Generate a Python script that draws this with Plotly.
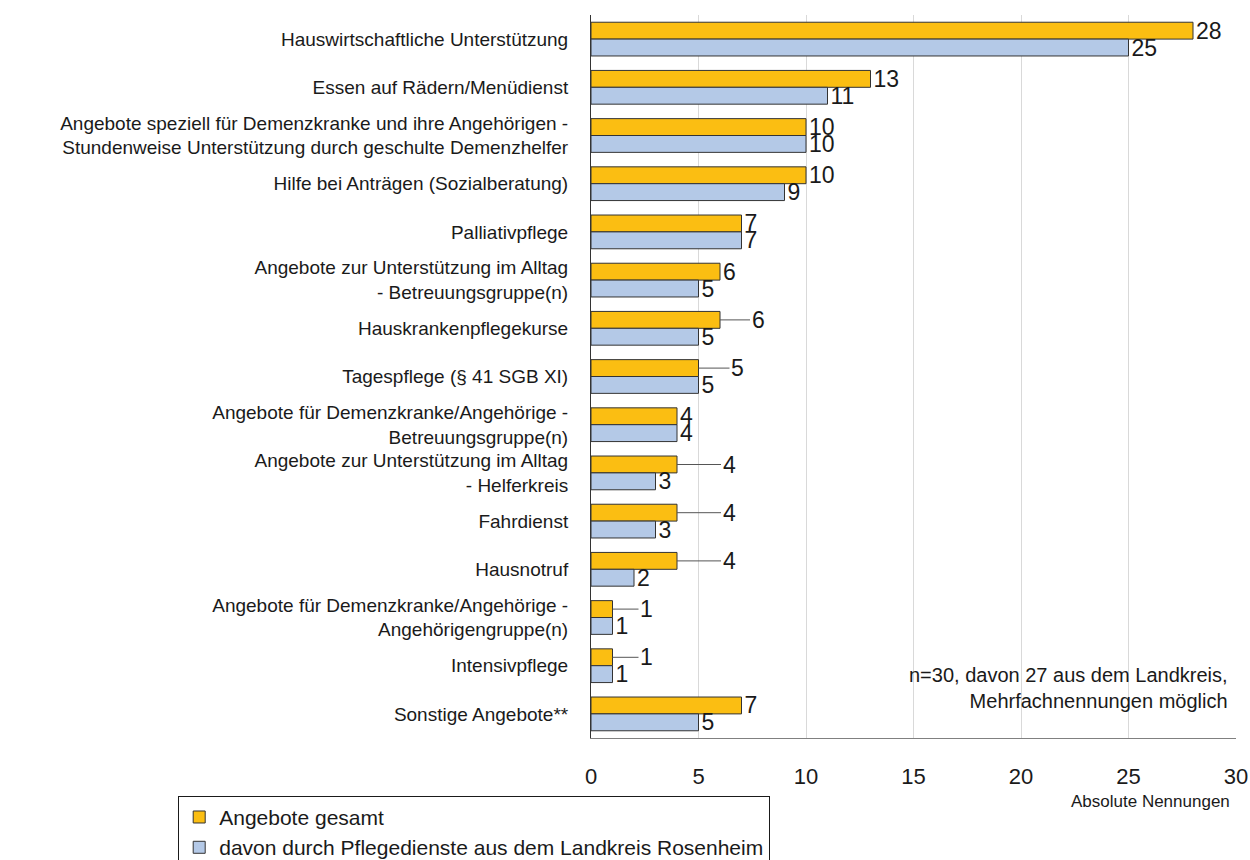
import plotly.graph_objects as go

categories = [
    "Hauswirtschaftliche Unterstützung",
    "Essen auf Rädern/Menüdienst",
    "Angebote speziell für Demenzkranke und ihre Angehörigen -<br>Stundenweise Unterstützung durch geschulte Demenzhelfer",
    "Hilfe bei Anträgen (Sozialberatung)",
    "Palliativpflege",
    "Angebote zur Unterstützung im Alltag<br>- Betreuungsgruppe(n)",
    "Hauskrankenpflegekurse",
    "Tagespflege (§ 41 SGB XI)",
    "Angebote für Demenzkranke/Angehörige -<br>Betreuungsgruppe(n)",
    "Angebote zur Unterstützung im Alltag<br>- Helferkreis",
    "Fahrdienst",
    "Hausnotruf",
    "Angebote für Demenzkranke/Angehörige -<br>Angehörigengruppe(n)",
    "Intensivpflege",
    "Sonstige Angebote**",
]
gesamt = [28, 13, 10, 10, 7, 6, 6, 5, 4, 4, 4, 4, 1, 1, 7]
landkreis = [25, 11, 10, 9, 7, 5, 5, 5, 4, 3, 3, 2, 1, 1, 5]

# labels of the orange bars that were pushed right with a leader line (px)
leader = [0, 0, 0, 0, 0, 0, 38, 39, 0, 52, 52, 52, 34, 34, 0]

font = "Liberation Sans, Arial, sans-serif"
ink = "#1a1a1a"
lbl_size = 23

fig = go.Figure()
fig.add_trace(go.Bar(
    y=categories, x=gesamt, orientation="h", name="Angebote gesamt",
    marker=dict(color="#FBBE12", line=dict(color="#333333", width=1)),
    text=[str(v) if off == 0 else "" for v, off in zip(gesamt, leader)],
    textposition="outside", constraintext="none",
    textfont=dict(size=lbl_size, color=ink), cliponaxis=False,
))
fig.add_trace(go.Bar(
    y=categories, x=landkreis, orientation="h",
    name="davon durch Pflegedienste aus dem Landkreis Rosenheim",
    marker=dict(color="#B4C9E7", line=dict(color="#333333", width=1)),
    text=landkreis, textposition="outside", constraintext="none",
    textfont=dict(size=lbl_size, color=ink), cliponaxis=False,
))

annotations = [
    dict(text="n=30, davon 27 aus dem Landkreis,<br>Mehrfachnennungen möglich",
         x=0.991, y=0.033, xref="paper", yref="paper", xanchor="right", yanchor="bottom",
         align="right", showarrow=False, font=dict(size=20)),
    dict(text="Absolute Nennungen", x=0.867, y=-0.0885, xref="paper", yref="paper",
         xanchor="center", yanchor="middle", showarrow=False, font=dict(size=17)),
]
for cat, v, off in zip(categories, gesamt, leader):
    if off:
        annotations.append(dict(
            x=v, y=cat, xref="x", yref="y", text=str(v), yshift=8.4,
            showarrow=True, arrowhead=0, arrowwidth=1, arrowcolor="#555555",
            ax=off, ay=0, standoff=0, font=dict(size=lbl_size, color=ink),
        ))

fig.update_layout(
    width=1250, height=860,
    barmode="group", bargap=0.3, bargroupgap=0,
    plot_bgcolor="white", paper_bgcolor="white",
    font=dict(family=font, color=ink),
    margin=dict(l=591, r=14, t=15, b=122, autoexpand=False),
    legend=dict(
        x=-0.64, y=-0.08, xanchor="left", yanchor="top",
        bordercolor=ink, borderwidth=1,
        font=dict(size=21), traceorder="normal",
        itemwidth=30, tracegroupgap=0,
    ),
    annotations=annotations,
)
fig.update_xaxes(
    range=[0, 30], dtick=5, showgrid=True, gridcolor="#d9d9d9",
    showline=True, linecolor="#808080", linewidth=1,
    tickfont=dict(size=22), ticks="", zeroline=False, ticklabelstandoff=19,
)
fig.update_yaxes(
    autorange="reversed", showline=True, linecolor="#333333", linewidth=1,
    tickfont=dict(size=19), ticks="", ticklabelstandoff=18, automargin=False,
)

# drop the default 8px body margin so the figure fills the window exactly
fig.write_html("out.html", config={"displayModeBar": False},
               post_script="document.body.style.margin = '0';")
